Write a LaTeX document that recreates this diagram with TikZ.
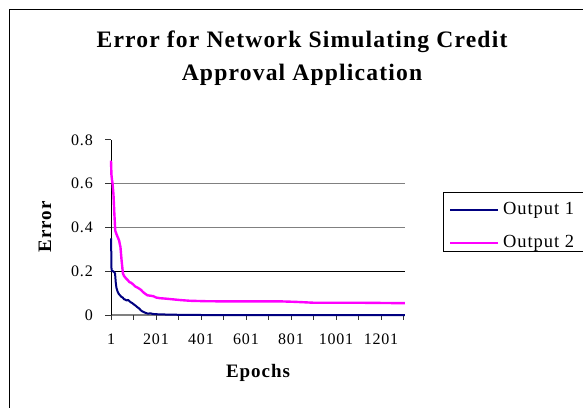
\documentclass[tikz,border=0pt]{standalone}
\usepackage{fontspec}
\setmainfont{Liberation Serif}
\newfontfamily\chartfont[LetterSpace=5]{Liberation Serif}
\definecolor{seriesnavy}{RGB}{0,0,128}
\definecolor{seriesmagenta}{RGB}{255,0,255}
\definecolor{gridgray}{RGB}{128,128,128}
\tikzset{
  x=1pt, y=1pt,
  titletext/.style={font=\chartfont\fontsize{23.6}{33}\selectfont\bfseries, align=center, inner sep=0pt},
  axistitle/.style={font=\chartfont\fontsize{19}{21}\selectfont\bfseries, inner sep=0pt},
  ticklabel/.style={font=\chartfont\fontsize{16}{18}\selectfont, inner sep=0pt},
  legendtext/.style={font=\chartfont\fontsize{18.5}{20}\selectfont, inner sep=0pt, anchor=west},
  gridline/.style={draw=gridgray, line width=1.4pt},
  tickmark/.style={draw=black!80, line width=0.8pt},
  navyline/.style={draw=seriesnavy, line width=2pt, line join=round},
  magentaline/.style={draw=seriesmagenta, line width=2.4pt, line join=round},
}
\begin{document}
\begin{tikzpicture}
\useasboundingbox (0,0) rectangle (583,407);
\clip (0,0) rectangle (583,407);
% outer chart frame (runs off the right and bottom)
\draw[black, line width=1pt] (9.5,-5) -- (9.5,397.5) -- (600,397.5);

% title
\node[titletext] (title) at (302,349) {Error for Network Simulating Credit\\Approval Application};

% plot area: origin at (111,92), 0.225pt per epoch, 219pt per unit of error
\begin{scope}[shift={(111,92)}]
  \coordinate (origin) at (0,0);
  \coordinate (xend) at (294,0);
  \coordinate (ytop) at (0,175);
  % horizontal gridlines
  \draw[gridline] (0,131.4) -- (294,131.4);
  \draw[gridline] (0,87.6) -- (294,87.6);
  \draw[black, line width=0.9pt] (0,43.8) -- (294,43.8);
  \draw[gridline] (origin) -- (xend);
  % y axis with ticks
  \draw[black, line width=0.9pt] (origin) -- (ytop);
  \foreach \v/\lab in {0/0, 43.8/0.2, 87.6/0.4, 131.4/0.6, 175.2/0.8} {
    \draw[tickmark] (-6,\v) -- (0,\v);
    \node[ticklabel, anchor=east] (ylab\lab) at (-18,\v) {\lab};
  }
  % x axis ticks every 100 epochs, labels every 200
  \foreach \i in {0,...,13} {
    \draw[tickmark] (\i*22.5,0) -- (\i*22.5,-5);
  }
  \foreach \i/\lab in {0/1, 2/201, 4/401, 6/601, 8/801, 10/1001, 12/1201} {
    \node[ticklabel] (xlab\lab) at (\i*22.5,-24) {\lab};
  }
  % data series
  \begin{scope}[x=0.225pt, y=219pt]
    \draw[magentaline] plot coordinates {
      (0,0.705) (2,0.64) (4,0.62) (7,0.60) (11,0.55) (15,0.46) (19,0.385)
      (24,0.37) (30,0.355) (36,0.34) (42,0.31) (47,0.25) (53,0.19) (58,0.178)
      (66,0.168) (74,0.16) (82,0.15) (90,0.147) (98,0.14) (108,0.13) (118,0.125)
      (126,0.12) (134,0.114) (142,0.105) (152,0.097) (162,0.09) (175,0.088)
      (188,0.086) (200,0.08) (215,0.077) (240,0.075) (270,0.072) (310,0.068)
      (350,0.065) (420,0.063) (520,0.062) (640,0.062) (760,0.062) (820,0.06)
      (860,0.058) (900,0.056) (1000,0.056) (1100,0.056) (1200,0.055) (1306,0.054)
    };
    \draw[navyline] plot coordinates {
      (0,0.35) (1,0.30) (2,0.215) (4,0.2) (9,0.2) (14,0.196) (18,0.19)
      (21,0.15) (24,0.125) (29,0.108) (34,0.097) (40,0.09) (46,0.083) (52,0.08)
      (58,0.072) (64,0.07) (70,0.066) (76,0.069) (82,0.063) (88,0.058) (95,0.054)
      (102,0.048) (110,0.042) (118,0.035) (125,0.03) (132,0.022) (140,0.016)
      (148,0.012) (156,0.009) (165,0.006) (175,0.008) (185,0.005) (195,0.004)
      (215,0.003) (250,0.002) (300,0.001) (400,0) (1306,0)
    };
  \end{scope}
\end{scope}

% axis titles
\node[axistitle, rotate=90] (ytitle) at (45,180) {Error};
\node[axistitle] (xtitle) at (258,34) {Epochs};

% legend (box runs off the right edge)
\draw[black, line width=1pt] (443.5,155) rectangle (600,214);
\coordinate (l1a) at (450,197);
\coordinate (l1b) at (498,197);
\coordinate (l2a) at (450,164);
\coordinate (l2b) at (498,164);
\draw[navyline] (l1a) -- (l1b);
\draw[magentaline] (l2a) -- (l2b);
\node[legendtext] (leg1) at (503,197) {Output 1};
\node[legendtext] (leg2) at (503,164) {Output 2};
\end{tikzpicture}
\end{document}
